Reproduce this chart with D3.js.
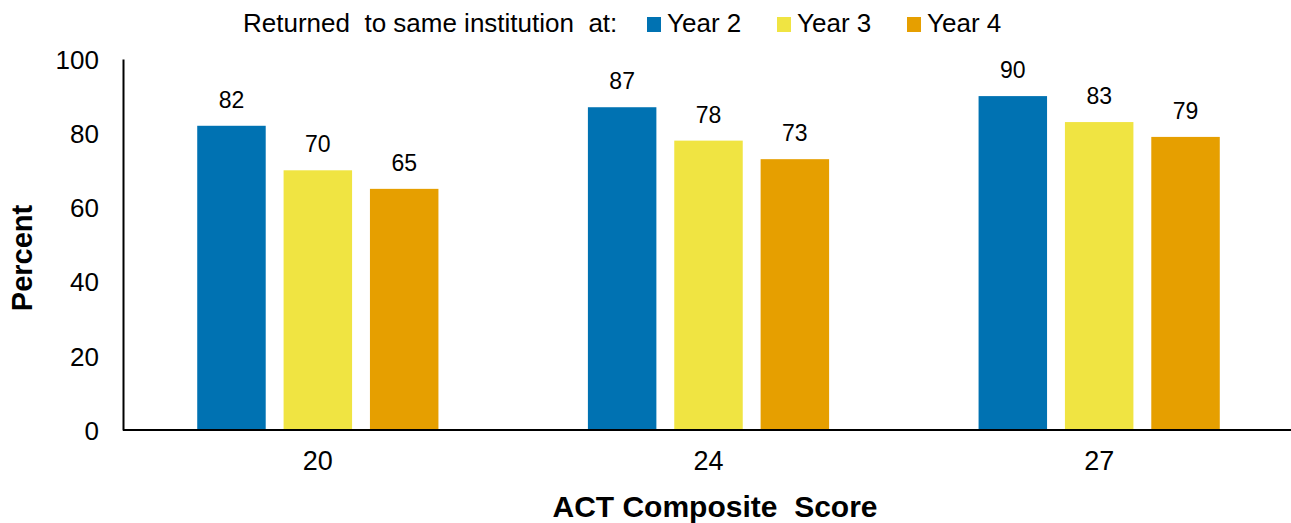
<!DOCTYPE html>
<meta charset="utf-8">
<title>Retention by ACT score</title>
<style>

body {
  margin: 0;
  background: #fff;
}

text {
  font-family: "Liberation Sans", Arial, sans-serif;
  fill: #000;
}

</style>
<body>
<script src="https://cdn.jsdelivr.net/npm/d3@7"></script>
<script>

var scores = ["20", "24", "27"],
    series = ["Year 2", "Year 3", "Year 4"],
    colors = ["#0072b2", "#f0e442", "#e69f00"],
    year2 = [82, 87, 90],
    year3 = [70, 78, 83],
    year4 = [65, 73, 79],
    yTicks = [0, 20, 40, 60, 80, 100];

var values = [year2, year3, year4];

var w = 1291,
    h = 523,
    mLeft = 123,
    mRight = 1294,
    mTop = 59,
    mBottom = 430;

var svg = d3.select("body").append("svg")
    .attr("width", w)
    .attr("height", h);

var x = d3.scaleBand()
    .domain(scores)
    .range([mLeft, mRight])
    .paddingInner(0.3826)
    .paddingOuter(0.19);

var x1 = d3.scaleBand()
    .domain(series)
    .range([0, x.bandwidth()])
    .paddingInner(0.207);

var y = d3.scaleLinear()
    .domain([0, 100])
    .range([mBottom, mTop]);

var color = d3.scaleOrdinal()
    .domain(series)
    .range(colors);

// y axis
var yAxis = svg.append("g")
    .attr("transform", "translate(" + mLeft + ",0)")
    .call(d3.axisLeft(y).tickValues(yTicks).tickSize(0).tickPadding(24));
yAxis.select(".domain").attr("stroke", "#000").attr("stroke-width", 2);
yAxis.selectAll("text")
    .style("font-size", "26px")
    .attr("dy", "0.36em");

// bars
var rows = [];
scores.forEach(function(s, i) {
  series.forEach(function(k, j) {
    rows.push({score: s, key: k, value: values[j][i]});
  });
});

svg.selectAll("rect.bar")
    .data(rows)
  .enter().append("rect")
    .attr("class", "bar")
    .attr("x", function(d) { return x(d.score) + x1(d.key); })
    .attr("y", function(d) { return y(d.value); })
    .attr("width", x1.bandwidth())
    .attr("height", function(d) { return y(0) - y(d.value); })
    .attr("fill", function(d) { return color(d.key); });

svg.selectAll("text.val")
    .data(rows)
  .enter().append("text")
    .attr("class", "val")
    .attr("x", function(d) { return x(d.score) + x1(d.key) + x1.bandwidth() / 2; })
    .attr("y", function(d) { return y(d.value) - 18; })
    .attr("text-anchor", "middle")
    .style("font-size", "23px")
    .text(function(d) { return d.value; });

// x axis
var xAxis = svg.append("g")
    .attr("transform", "translate(0," + mBottom + ")")
    .call(d3.axisBottom(x).tickSize(0).tickPadding(21));
xAxis.select(".domain")
    .attr("d", "M" + mLeft + ",0H" + w)
    .attr("stroke", "#000")
    .attr("stroke-width", 2);
xAxis.selectAll("text")
    .style("font-size", "27px");

// axis titles
svg.append("text")
    .attr("transform", "translate(32,258) rotate(-90)")
    .attr("text-anchor", "middle")
    .style("font-size", "29px")
    .style("font-weight", "bold")
    .text("Percent");

svg.append("text")
    .attr("x", 715)
    .attr("y", 517)
    .attr("text-anchor", "middle")
    .style("font-size", "30px")
    .style("font-weight", "bold")
    .style("white-space", "pre")
    .text("ACT Composite  Score");

// legend
var legend = svg.append("g");

legend.append("text")
    .attr("x", 243)
    .attr("y", 32)
    .style("font-size", "26px")
    .style("white-space", "pre")
    .text("Returned  to same institution  at:");

var legendX = [647, 777, 907];

var item = legend.selectAll("g.item")
    .data(series)
  .enter().append("g")
    .attr("class", "item")
    .attr("transform", function(d, i) { return "translate(" + legendX[i] + ",0)"; });

item.append("rect")
    .attr("y", 17)
    .attr("width", 14)
    .attr("height", 15)
    .attr("fill", function(d) { return color(d); });

item.append("text")
    .attr("x", 20)
    .attr("y", 32)
    .style("font-size", "26px")
    .text(function(d) { return d; });

</script>
